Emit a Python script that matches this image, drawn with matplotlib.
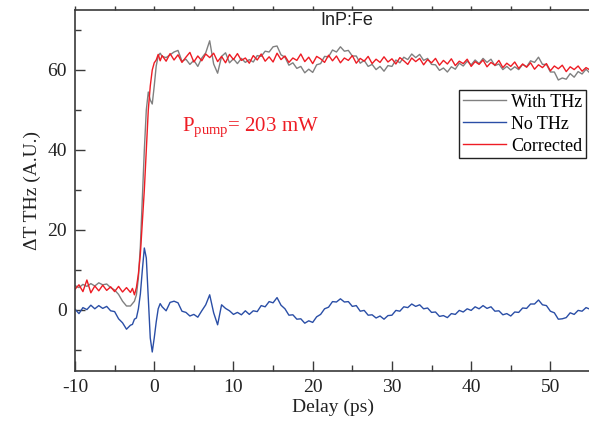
import numpy as np
import matplotlib
matplotlib.use("Agg")
import matplotlib.pyplot as plt
from matplotlib.ticker import MultipleLocator

plt.rcParams['font.family'] = ['Liberation Serif', 'DejaVu Serif']
plt.rcParams['mathtext.fontset'] = 'custom'
plt.rcParams['mathtext.rm'] = 'Liberation Serif'
plt.rcParams['mathtext.it'] = 'Liberation Serif:italic'
plt.rcParams['axes.unicode_minus'] = False

# ---- sampling grid of delay (ps) ----
delay = np.concatenate([np.arange(-10, -3.25, 0.5),
                        np.arange(-3, 1.01, 0.25),
                        np.arange(1.5, 55.01, 0.5)])

# ---- No THz (blue) ----
no_thz_pre = [0.2, -0.9, 0.6, 0.1, 1.2, 0.3, 1.1, 0.4, 0.9, -0.2, -0.4, -2.2, -3.2, -4.8]
no_thz_fast = [-3.8, -3.6, -2.3, -2.0, 0.3, 4.0, 10.0, 15.5, 13.0, 3.0, -7.0, -10.5, -7.0, -3.0, 0.3, 1.6, 0.8]
no_thz_post = [-0.2, 1.9, 2.2, 1.8, -0.3, -0.6, -1.5, -1.1, -1.8, -0.2, 1.3, 3.8, -0.7, -3.7, 1.3, 0.4,
               -0.2, -1.1, -0.6, -1.2, -0.2, -1.1, -0.2, -0.4, 1.1, 0.8, 2.1, 1.8, 3.1, 1.2, 0.3, -1.3,
               -1.2, -2.3, -2.2, -3.3, -2.7, -3.1, -1.7, -1.1, 0.3, 0.7, 2.1, 2.0, 2.8, 2.0, 2.1, 0.9,
               1.1, -0.3, -0.1, -1.3, -1.2, -2.0, -1.5, -2.3, -1.4, -1.3, -0.1, -0.3, 0.8, 0.6, 1.5, 0.9,
               1.3, 0.3, 0.5, -0.6, -0.5, -1.6, -1.4, -1.9, -0.9, -1.1, -0.1, -0.5, 0.3, -0.1, 0.8, 0.3,
               1.1, 0.4, 0.8, -0.3, -0.2, -1.2, -0.9, -1.5, -0.5, -0.6, 0.5, 0.4, 1.5, 1.5, 2.5, 1.3,
               1.1, -0.3, -0.7, -2.3, -2.2, -1.9, -0.7, -1.1, -0.1, -0.3, 0.6, 0.2]

# ---- Corrected (red) ----
corr_pre = [5.2, 6.3, 4.6, 7.5, 4.3, 6.0, 4.8, 6.2, 4.9, 5.8, 4.6, 5.9, 4.5, 5.6]
corr_fast = [4.4, 5.4, 3.8, 5.6, 9.0, 14.0, 22.0, 30.0, 40.0, 50.0, 56.0, 60.0, 61.8, 62.5, 63.9, 62.3, 63.6]
corr_post = [62.2, 64.1, 62.5, 63.8, 61.9, 63.2, 64.4, 62.0, 63.5, 62.3, 64.0, 63.1, 64.2, 62.1, 63.4, 61.8,
             63.9, 62.6, 64.1, 62.4, 63.0, 61.7, 63.6, 62.5, 64.0, 62.2, 63.3, 62.0, 64.2, 62.6, 63.5, 61.9,
             63.0, 62.4, 64.0, 62.1, 63.2, 61.6, 63.4, 62.8, 61.9, 63.7, 62.3, 63.5, 61.8, 63.0, 62.4, 63.6,
             61.7, 62.9, 62.2, 63.4, 61.6, 62.7, 61.9, 63.3, 62.0, 62.8, 61.5, 63.1, 62.3, 61.4, 63.0, 62.1,
             62.9, 61.3, 62.6, 61.8, 62.9, 61.2, 62.4, 61.5, 62.8, 61.1, 62.2, 61.6, 62.7, 60.9, 62.1, 61.4,
             62.5, 60.8, 61.9, 61.2, 62.4, 60.6, 61.7, 60.9, 62.0, 60.4, 61.5, 60.7, 61.8, 60.2, 61.3, 60.6,
             61.6, 59.8, 61.0, 60.3, 61.2, 59.6, 60.8, 60.1, 61.0, 59.7, 60.6, 60.0]

# ---- With THz (grey) ----
with_pre = [6.1, 5.6, 6.4, 5.9, 6.6, 6.0, 6.8, 6.3, 6.5, 5.6, 5.0, 3.9, 2.2, 1.0]
with_fast = [1.0, 1.6, 2.2, 3.8, 8.0, 16.0, 28.0, 40.0, 50.0, 54.5, 52.5, 51.5, 56.0, 61.0, 63.5, 64.2, 63.4]
with_post = [63.1, 63.8, 64.5, 64.9, 62.2, 62.7, 61.4, 62.4, 60.9, 63.0, 64.3, 67.3, 61.5, 59.2, 63.4, 64.3,
             61.8, 62.8, 61.6, 62.9, 61.9, 62.6, 62.0, 63.6, 63.4, 64.7, 64.5, 65.8, 66.0, 63.8, 63.2, 61.2,
             61.8, 60.4, 60.9, 59.3, 60.2, 59.4, 61.3, 61.6, 63.4, 63.3, 65.0, 64.5, 65.8, 64.7, 64.9, 63.5,
             63.5, 61.7, 62.4, 60.9, 61.4, 60.1, 60.9, 59.7, 61.1, 60.9, 62.5, 61.8, 63.2, 62.6, 64.0, 63.1,
             63.9, 62.4, 62.9, 61.4, 61.3, 59.9, 60.5, 59.5, 60.8, 60.2, 61.7, 61.0, 62.2, 61.3, 62.5, 61.6,
             62.9, 61.9, 62.7, 61.1, 61.5, 60.1, 60.9, 60.0, 60.8, 60.1, 61.4, 60.8, 62.3, 61.9, 63.2, 61.4,
             61.4, 59.5, 59.5, 57.5, 58.0, 57.7, 59.1, 58.2, 59.6, 59.0, 60.2, 59.2]

no_thz = np.array(no_thz_pre + no_thz_fast + no_thz_post)
corrected = np.array(corr_pre + corr_fast + corr_post)
with_thz = np.array(with_pre + with_fast + with_post)

labels = ["With THz", "No THz", "Corrected"]
colors = ["#808080", "#2a4ea6", "#ee1c24"]

fig = plt.figure(figsize=(5.89, 4.28), dpi=100)
ax = fig.add_axes([75/589, 57/428, 515/589, 361/428])

ax.plot(delay, with_thz, color=colors[0], lw=1.0, label=labels[0])
ax.plot(delay, no_thz, color=colors[1], lw=1.0, label=labels[1])
ax.plot(delay, corrected, color=colors[2], lw=1.0, label=labels[2])

ax.set_xlim(-10, 55)
ax.set_ylim(-15.25, 75)
ax.xaxis.set_major_locator(MultipleLocator(10))
ax.xaxis.set_minor_locator(MultipleLocator(5))
ax.yaxis.set_major_locator(MultipleLocator(20))
ax.yaxis.set_minor_locator(MultipleLocator(10))

spine_c = '#3a3a3a'
for s in ax.spines.values():
    s.set_color(spine_c)
    s.set_linewidth(1.2)
ax.spines['right'].set_visible(False)

ax.tick_params(axis='both', which='major', direction='in', length=7, width=1,
               color=spine_c, labelsize=14, labelcolor='#222222')
ax.tick_params(axis='both', which='minor', direction='in', length=4, width=1, color=spine_c)
ax.tick_params(axis='x', pad=6)
ax.tick_params(axis='y', pad=6)

sec = ax.secondary_xaxis('top')
sec.xaxis.set_major_locator(MultipleLocator(5))
sec.tick_params(direction='out', length=3, width=1, color=spine_c, labeltop=False)
sec.spines['top'].set_visible(False)

ax.set_xlabel("Delay (ps)", fontsize=14, color='#222222', labelpad=2)
ax.set_ylabel("ΔT THz (A.U.)", fontsize=14, color='#222222', labelpad=4)

ax.text(0.528, 0.995, "InP:Fe", transform=ax.transAxes, ha='center', va='top',
        fontsize=13, family=['Liberation Sans', 'DejaVu Sans'], color='#222222')

ax.text(0.207, 0.665, r"P$_{\mathrm{pump}}$= 203 mW", transform=ax.transAxes,
        ha='left', va='baseline', fontsize=15, color='#ee1c24')

leg = ax.legend(loc='upper left', bbox_to_anchor=(384/515, (371-90)/361),
                fontsize=13, frameon=True, fancybox=False, framealpha=1,
                edgecolor='#222222', borderpad=0.2, labelspacing=0.28,
                handlelength=2.4, handletextpad=0.3, borderaxespad=0)
leg.get_frame().set_linewidth(1.0)

fig.savefig("out.png", dpi=100)
